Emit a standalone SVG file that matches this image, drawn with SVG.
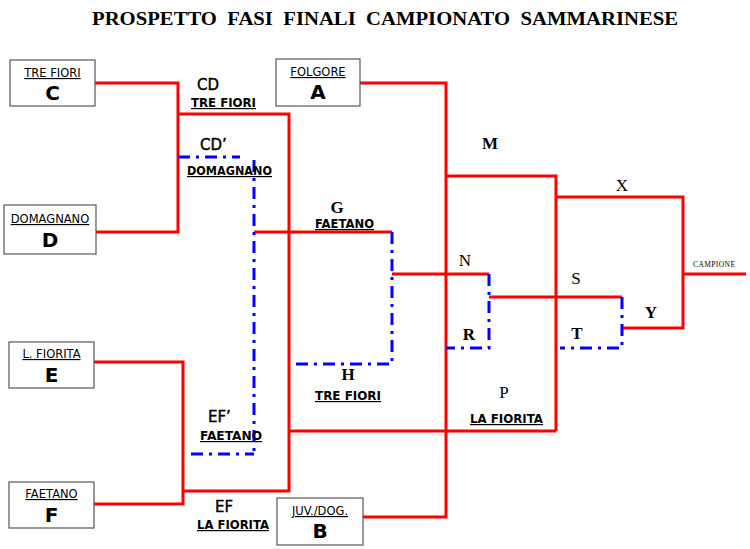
<svg xmlns="http://www.w3.org/2000/svg" width="750" height="549" viewBox="0 0 750 549">
<style>
.box{fill:#fff;stroke:#555;stroke-width:1.2}
.red{fill:none;stroke:#f00;stroke-width:3}
.blue{fill:none;stroke:#00f;stroke-width:3;stroke-dasharray:12 6 3 6}
.bl{font-family:"DejaVu Sans","Liberation Sans",sans-serif;font-size:11.5px;text-anchor:middle;text-decoration:underline;fill:#000}
.bb{font-family:"DejaVu Sans","Liberation Sans",sans-serif;font-size:20px;font-weight:bold;text-anchor:middle;fill:#000}
.ul{font-family:"DejaVu Sans","Liberation Sans",sans-serif;font-size:12px;font-weight:bold;text-decoration:underline;fill:#000}
.sl{font-family:"DejaVu Sans","Liberation Sans",sans-serif;font-size:15px;fill:#000;stroke:#000;stroke-width:0.4}
.ser{font-family:"Liberation Serif",serif;font-size:17px;font-weight:bold;text-anchor:middle;fill:#000}
.serr{font-family:"Liberation Serif",serif;font-size:17px;text-anchor:middle;fill:#000}
</style>
<rect width="750" height="549" fill="#fff"/>
<text x="92" y="25" font-family="Liberation Serif,serif" font-size="19" font-weight="bold" textLength="586" lengthAdjust="spacingAndGlyphs" xml:space="preserve">PROSPETTO  FASI  FINALI  CAMPIONATO  SAMMARINESE</text>

<g id="connectors">
<polyline class="red" points="95,83 178,83 178,232 96,232"/>
<polyline class="red" points="178,114 289,114 289,491 183,491"/>
<polyline class="red" points="94,362 183,362 183,504 94,504"/>
<line class="red" x1="289" y1="431" x2="556" y2="431"/>
<line class="red" x1="254" y1="232" x2="392" y2="232"/>
<polyline class="red" points="360,83 446,83 446,517 363,517"/>
<polyline class="red" points="446,176 556,176 556,431"/>
<line class="red" x1="392" y1="274" x2="489" y2="274"/>
<line class="red" x1="489" y1="297" x2="622" y2="297"/>
<polyline class="red" points="556,197 683,197 683,328 623,328"/>
<line class="red" x1="683" y1="274" x2="746" y2="274"/>
<line class="blue" x1="178" y1="157" x2="240" y2="157"/>
<line class="blue" x1="254" y1="160" x2="254" y2="456"/>
<line class="blue" x1="191" y1="454" x2="254" y2="454"/>
<polyline class="blue" points="392,232 392,364 292,364"/>
<polyline class="blue" points="489,274 489,348 446,348"/>
<polyline class="blue" points="622,297 622,348 560,348"/>
</g>

<g id="nodeC"><rect class="box" x="10" y="60" width="85" height="46"/><text class="bl" x="52.5" y="77">TRE FIORI</text><text class="bb" x="52.5" y="100">C</text></g>
<g id="nodeD"><rect class="box" x="4" y="205" width="92" height="49"/><text class="bl" x="50" y="223">DOMAGNANO</text><text class="bb" x="50" y="247">D</text></g>
<g id="nodeE"><rect class="box" x="9" y="342" width="85" height="46"/><text class="bl" x="51.5" y="358">L. FIORITA</text><text class="bb" x="51.5" y="382">E</text></g>
<g id="nodeF"><rect class="box" x="9" y="482" width="85" height="46"/><text class="bl" x="51.5" y="498">FAETANO</text><text class="bb" x="51.5" y="522">F</text></g>
<g id="nodeA"><rect class="box" x="276" y="59" width="84" height="47"/><text class="bl" x="318" y="76">FOLGORE</text><text class="bb" x="318" y="99">A</text></g>
<g id="nodeB"><rect class="box" x="277" y="498" width="86" height="47"/><text class="bl" x="320" y="515">JUV./DOG.</text><text class="bb" x="320" y="538">B</text></g>

<g id="labels">
<text class="sl" x="197" y="90">CD</text>
<text class="ul" x="191" y="107" textLength="65" lengthAdjust="spacingAndGlyphs">TRE FIORI</text>
<text class="sl" x="200" y="150">CD’</text>
<text class="ul" x="187" y="175" textLength="85" lengthAdjust="spacingAndGlyphs">DOMAGNANO</text>
<text class="ser" x="337" y="213">G</text>
<text class="ul" x="315" y="228" textLength="59" lengthAdjust="spacingAndGlyphs">FAETANO</text>
<text class="ser" x="490" y="149">M</text>
<text class="serr" x="465" y="266">N</text>
<text class="ser" x="469" y="340">R</text>
<text class="ser" x="348" y="380">H</text>
<text class="ul" x="315" y="400" textLength="66" lengthAdjust="spacingAndGlyphs">TRE FIORI</text>
<text class="serr" x="504" y="398">P</text>
<text class="ul" x="470" y="423" textLength="73" lengthAdjust="spacingAndGlyphs">LA FIORITA</text>
<text class="sl" x="208" y="422">EF’</text>
<text class="ul" x="200" y="440" textLength="62" lengthAdjust="spacingAndGlyphs">FAETANO</text>
<text class="sl" x="215" y="512">EF</text>
<text class="ul" x="197" y="529" textLength="72" lengthAdjust="spacingAndGlyphs">LA FIORITA</text>
<text class="serr" x="622" y="191" font-size="13">X</text>
<text class="serr" x="576" y="284" font-size="13">S</text>
<text class="ser" x="651" y="318" font-size="13">Y</text>
<text class="ser" x="577" y="339" font-size="13">T</text>
<text x="693" y="267" font-family="Liberation Serif,serif" font-size="7.5" textLength="42">CAMPIONE</text>
</g>
</svg>
